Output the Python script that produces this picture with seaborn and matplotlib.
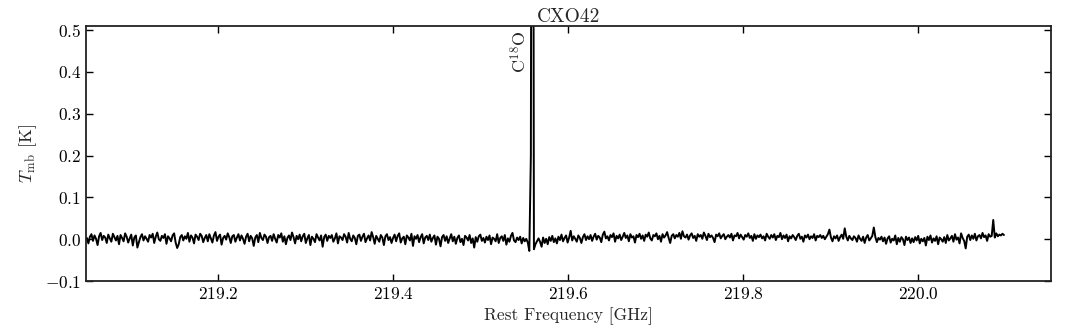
import numpy as np
import matplotlib
matplotlib.use("Agg")
import matplotlib.pyplot as plt
import seaborn as sns

# spectrum of CXO42: channel grid (GHz) and main-beam temperature (mK)
freq_start = 219.05
chan_width = 0.00175
tmb_mK = [
    3, -10, 6, 12, -4, 9, 1, -14, 7, 15, -2, 8, 4, -9, 11, 2, -6, 13, 5, -3,
    8, -12, 10, 3, -5, 14, 6, -8, 2, 11, -15, 4, 9, -20, -7, 5, 12, -3, 7, 1,
    -6, 10, 4, 13, -9, 6, 16, 0, -4, 8, 3, 12, -11, 7, 2, -5, 9, 14, -8, -21,
    -12, 5, 10, -3, 7, 1, 15, -6, 9, 4, -10, 11, 6, -2, 13, 8, -7, 3, 10, -5,
    12, 2, -8, 9, 17, -4, 6, 11, -13, 3, 8, -1, 14, 5, -9, 7, 10, -6, 4, 12,
    -3, 9, 1, -11, 6, 13, -5, 8, 2, -16, 4, 10, -7, 15, 3, -2, 11, 6, -9, 5,
    8, -4, 12, 1, -8, 10, 4, 14, -6, 7, -12, 3, 9, -2, 16, 5, -10, 8, 0, 11,
    -5, 7, 13, -9, 2, 10, -14, 6, 1, -7, 12, 4, -3, 9, -18, 5, 11, -4, 8, 3,
    10, -6, 2, 14, -10, 7, 4, -2, 12, 6, -8, 15, 1, -5, 9, 3, -12, 8, 11, -4,
    6, 13, -7, 2, 9, -3, 17, 5, -11, 8, 1, -6, 10, 4, -14, 7, 12, -2, 5, -9,
    3, 11, -5, 8, 14, -8, 2, 6, -12, 9, 4, -3, 13, -16, 7, 1, 10, -7, 5, 12,
    -10, 4, 8, -2, 11, -6, 3, 9, -13, 6, 1, -17, 5, 10, -4, 7, -9, 2, 12, -5,
    6, -11, 3, 9, -7, 1, -14, 8, 4, -3, 10, -9, 2, -20, 5, -6, 7, 11, -4, 3,
    -8, 6, -2, 9, -12, 4, 1, -5, 12, -9, 3, 7, -4, 10, -13, 2, -6, 8, 15, -3,
    -7, 4, -2, 6, -10, 3, -5, 1, -8, -28, 200, 2400, -24, -12, -5, 2, -6, -18, 4, -9,
    1, -12, 5, -4, 8, -7, 2, -10, 6, -2, 11, -5, 3, 9, -8, 4, 20, -3, 7, 1,
    -6, 9, 3, -9, 5, 12, -2, 7, 0, 10, -4, 6, 13, -1, 8, 4, -7, 11, 18, 2,
    7, -3, 10, 5, 14, -6, 8, 2, 11, -2, 6, 15, 3, 9, -5, 12, 4, 7, -8, 10,
    5, 13, 1, 9, -4, 11, 6, 16, 2, -3, 10, 7, 14, 0, 8, -6, 12, 4, 9, 17,
    3, -9, 8, 12, 2, 10, 6, 15, 1, 19, 7, 4, 11, -1, 9, 14, 3, 8, -4, 12,
    6, 10, 1, 16, 8, -2, 13, 5, 9, 3, -7, 11, 7, 14, 2, 8, 12, 0, 6, 10,
    4, 13, -3, 9, 7, 15, 2, 11, 5, -1, 10, 6, 14, 3, 8, -4, 12, 1, 9, 5,
    11, 2, 7, -3, 13, 6, 1, 10, 4, 12, -2, 8, 5, 15, 0, 9, 3, 11, -5, 7,
    2, 10, 5, -2, 8, 13, 1, 6, -6, 9, 4, 11, 0, 7, 3, 12, -3, 8, 5, 10,
    3, 8, 0, 6, 12, 23, 4, -5, 7, 2, 9, -4, 5, 11, 1, 26, 6, -3, 8, 2,
    -2, 7, 3, -6, 9, 1, -4, 6, -9, 4, 10, -3, 2, 8, 28, 5, -7, 3, -1, 6,
    -5, 4, -11, 2, 7, -8, 1, -3, 9, -12, 3, -6, 5, 0, -14, 6, -2, 4, -9, 2,
    -7, 5, -3, 8, -10, 1, -5, 3, -15, 6, -2, 9, -8, 2, -4, 7, -12, 4, 0, -6,
    5, -9, 10, -3, 2, 8, -6, 12, -1, 4, -10, 14, 3, -4, -22, 6, 11, -2, 9, 1,
    13, -3, 7, 10, 2, 15, 5, 9, -4, 12, 6, 8, 46, 4, 14, 7, 11, 9, 13, 10,
]
line_label = "C$^{18}$O"
line_freq = 219.5555
title = "CXO42"

freq = freq_start + chan_width * np.arange(len(tmb_mK))
tmb = np.array(tmb_mK) / 1000.0

sns.set_style("ticks")
plt.rcParams["font.family"] = "serif"
plt.rcParams["font.serif"] = ["cmr10"]
plt.rcParams["mathtext.fontset"] = "cm"
plt.rcParams["axes.formatter.use_mathtext"] = True

fig = plt.figure(figsize=(10.72, 3.31), dpi=100)
ax = fig.add_axes([0.0802, 0.151, 0.9002, 0.7705])
sns.lineplot(x=freq, y=tmb, color="k", lw=1.4, ax=ax, sort=False)

ax.set_xlim(219.049, 220.152)
ax.set_ylim(-0.1, 0.51)
ax.set_xticks([219.2, 219.4, 219.6, 219.8, 220.0])
ax.set_yticks([-0.1, 0.0, 0.1, 0.2, 0.3, 0.4, 0.5])
ax.tick_params(direction="in", top=True, right=True, length=5, width=1,
               labelsize=12.5, color="k", labelcolor="k")
for s in ax.spines.values():
    s.set_linewidth(1.3)
    s.set_color("#222222")

ax.text(line_freq, 0.5, line_label, rotation=90, ha="right", va="top", fontsize=13)
ax.set_title(title, fontsize=14, pad=3)
ax.set_xlabel("Rest Frequency [GHz]", fontsize=12.5)
ax.set_ylabel(r"$T_{\rm mb}$ [K]", fontsize=13)

fig.savefig("out.png", dpi=100)
